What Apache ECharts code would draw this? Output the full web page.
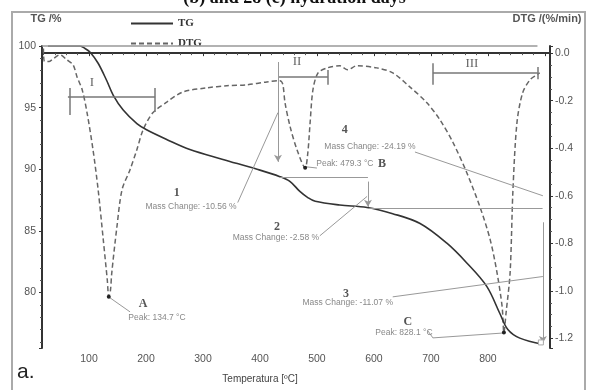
<!DOCTYPE html>
<html>
<head>
<meta charset="utf-8">
<script src="https://cdn.jsdelivr.net/npm/echarts@6/dist/echarts.min.js"></script>
<style>
html,body{margin:0;padding:0;background:#fff;}
#chart{width:589px;height:390px;}
</style>
</head>
<body>
<div id="chart"></div>
<script>
// TG curve (temperature in C, mass in %)
var tgTemp = [28, 84, 93, 102, 116, 131, 142.6, 160, 184, 201, 237, 277, 335, 395, 435, 453, 470, 484, 497, 540, 588, 633, 681, 728, 763, 798, 821, 835, 856, 896];
var tgMass = [100, 100, 99.8, 99.5, 98.6, 97.2, 96.0, 94.8, 93.7, 93.2, 92.4, 91.6, 90.8, 90.0, 89.4, 89.0, 88.2, 87.7, 87.4, 87.1, 86.9, 86.4, 85.6, 84.0, 82.4, 80.5, 78.3, 77.0, 76.3, 75.8];

// DTG curve (temperature in C, rate in %/min)
var dtgTemp = [20, 22, 30, 35, 49, 61, 72, 79, 88, 96.5, 107, 116, 125, 132, 134.7, 137.5, 140, 149, 158, 172, 184, 195, 212, 237, 265, 307, 342, 377, 412, 435, 440, 444, 453, 465, 479.3, 484, 488, 493, 502, 518, 540, 554, 570, 605, 633, 663, 693, 716, 739, 763, 786, 804, 816, 825, 828.1, 832, 839, 844, 851, 861, 874, 886, 891];
var dtgRate = [0.02, -0.035, -0.035, -0.028, -0.007, -0.028, -0.049, -0.10, -0.154, -0.25, -0.406, -0.574, -0.784, -0.952, -1.024, -1.0, -0.923, -0.73, -0.574, -0.49, -0.406, -0.322, -0.251, -0.205, -0.163, -0.146, -0.137, -0.133, -0.121, -0.116, -0.13, -0.209, -0.31, -0.406, -0.482, -0.419, -0.293, -0.154, -0.083, -0.062, -0.053, -0.07, -0.053, -0.062, -0.083, -0.142, -0.209, -0.281, -0.377, -0.503, -0.646, -0.784, -0.923, -1.066, -1.175, -1.09, -0.923, -0.574, -0.293, -0.167, -0.112, -0.091, -0.083];

// DTG peaks
var peakTemps = [134.7, 479.3, 828.1];
var peakRates = [-1.024, -0.482, -1.175];
var peakNames = ['A', 'B', 'C'];

// stage brackets (temperature range, TG level of the bar)
var stageNames = ['I', 'II', 'III'];
var stageFrom = [63, 431.6, 703.5];
var stageTo = [216, 519.3, 887.7];
var stageLevel = [95.9, 97.5, 97.8];

// mass change steps
var changeNames = ['1', '2', '3', '4'];
var changeText = ['Mass Change: -10.56 %', 'Mass Change: -2.58 %', 'Mass Change: -11.07 %', 'Mass Change: -24.19 %'];
var changeLabelAt = [[279, 87.0], [428, 84.45], [554, 79.2], [593, 91.85]];
var changeLeaderTo = [[431.6, 94.6], [588, 87.8], [896.5, 81.3], [896.5, 87.85]];
var changeLeaderFrom = [[361, 87.3], [505, 84.6], [633, 79.65], [672, 91.4]];

var chart = echarts.init(document.getElementById('chart'));

var tgData = [];
for (var i = 0; i < tgTemp.length; i++) tgData.push([tgTemp[i], tgMass[i]]);
var dtgData = [];
for (var i = 0; i < dtgTemp.length; i++) dtgData.push([dtgTemp[i], dtgRate[i]]);

function seg(a, b, arrow, style) {
	var p = {coord: a, symbol: 'none'};
	if (style) p.lineStyle = style;
	return [p, {coord: b, symbol: arrow ? 'arrow' : 'none'}];
}

var bracketStyle = {color: '#777', width: 1.5, type: 'solid'};
var lines = [];
// top frame line
lines.push(seg([17.5, 100], [887, 100], false, {color: '#999', width: 1.5, type: 'solid'}));
// stage brackets
for (var i = 0; i < stageNames.length; i++) {
	lines.push(seg([stageFrom[i], stageLevel[i]], [stageTo[i], stageLevel[i]], false, bracketStyle));
}
lines.push(seg([66.7, 96.6], [66.7, 94.4], false, bracketStyle));
lines.push(seg([216, 96.6], [216, 94.65], false, bracketStyle));
lines.push(seg([519.3, 98.05], [519.3, 96.85], false, bracketStyle));
lines.push(seg([703.5, 98.6], [703.5, 96.85], false, bracketStyle));
lines.push(seg([887.7, 98.3], [887.7, 97.3], false, bracketStyle));
// step arrows and level lines
lines.push(seg([431.6, 98.7], [431.6, 90.6], true));
lines.push(seg([435, 89.38], [589.5, 89.38]));
lines.push(seg([589.5, 89.0], [589.5, 86.95], true));
lines.push(seg([589.5, 86.86], [896, 86.86]));
lines.push(seg([896.5, 85.7], [896.5, 75.9], true));
// leaders to the labels
for (var i = 0; i < changeNames.length; i++) {
	lines.push(seg(changeLeaderFrom[i], changeLeaderTo[i]));
}
// peak leaders
lines.push(seg([134.7, 79.64], [172, 78.43]));
lines.push(seg([481, 90.2], [500, 90.1]));
lines.push(seg([828.1, 76.72], [703.5, 76.32]));
lines.push(seg([703.5, 76.32], [694.7, 76.89]));

var smallText = {fontFamily: 'Liberation Sans', fontSize: 8.5, color: '#888'};
var bigText = {fontFamily: 'Liberation Serif', fontSize: 12, color: '#555', fontWeight: 'bold'};

var texts = [];
var stageTextAt = [[105, 97.0], [465, 98.7], [772, 98.6]];
for (var i = 0; i < stageNames.length; i++) {
	texts.push({name: stageNames[i], coord: stageTextAt[i], label: {fontFamily: 'Liberation Serif', fontSize: 13, color: '#666'}});
}
var changeNumAt = [[254, 88.1], [430, 85.35], [551, 79.85], [549, 93.2]];
for (var i = 0; i < changeNames.length; i++) {
	texts.push({name: changeNames[i], coord: changeNumAt[i], label: bigText});
	texts.push({name: changeText[i], coord: changeLabelAt[i], label: smallText});
}
var peakLetterAt = [[194.7, 79.1], [614, 90.45], [659.6, 77.6]];
var peakTextAt = [[219.3, 77.95], [549, 90.45], [652.6, 76.72]];
for (var i = 0; i < peakNames.length; i++) {
	texts.push({name: peakNames[i], coord: peakLetterAt[i], label: bigText});
	texts.push({name: 'Peak: ' + peakTemps[i] + ' °C', coord: peakTextAt[i], label: smallText});
}
texts.push({name: '', coord: [tgTemp[tgTemp.length - 1] - 3, tgMass[tgMass.length - 1] + 0.15], symbol: 'rect', symbolSize: 5,
	itemStyle: {color: '#fff', borderColor: '#aaa', borderWidth: 1}});

var peakDots = [];
for (var i = 0; i < peakTemps.length; i++) {
	peakDots.push({name: peakNames[i], coord: [peakTemps[i], peakRates[i]]});
}

var axisCol = '#333';
var labelFont = {fontFamily: 'Liberation Sans', fontSize: 10.5, color: '#555'};

var option = {
	animation: false,
	backgroundColor: '#fff',
	grid: {left: 42, right: 39, top: 46, bottom: 42},
	legend: {
		orient: 'vertical', left: 125, top: 13, itemWidth: 42, itemHeight: 10, itemGap: 9,
		itemStyle: {opacity: 0},
		textStyle: {fontFamily: 'Liberation Serif', fontWeight: 'bold', fontSize: 11, color: '#333'},
		data: ['TG', 'DTG']
	},
	graphic: [
		{type: 'rect', shape: {x: 12, y: 12, width: 573, height: 400}, style: {fill: 'none', stroke: '#aaa', lineWidth: 2}, silent: true},
		{type: 'text', left: 'center', top: -11, style: {text: '(b) and 28 (c) hydration days', fontFamily: 'Liberation Serif', fontWeight: 'bold', fontSize: 18, fill: '#111'}},
		{type: 'text', left: 17, top: 362, style: {text: 'a.', fontFamily: 'Liberation Sans', fontSize: 21, fill: '#222'}}
	],
	xAxis: {
		type: 'value', min: 17.5, max: 909, splitNumber: 9,
		name: 'Temperatura [ºC]', nameLocation: 'middle', nameGap: 26,
		nameTextStyle: {fontFamily: 'Liberation Sans', fontSize: 10, color: '#444', padding: [0, 72, 0, 0]},
		axisLine: {lineStyle: {color: axisCol, width: 2}},
		axisTick: {length: 3, lineStyle: {color: axisCol}},
		minorTick: {show: true, splitNumber: 5, length: 2, lineStyle: {color: '#555'}},
		axisLabel: Object.assign({margin: 6, formatter: function (v) {
			return (v % 100 === 0 && v >= 100 && v <= 800) ? String(v) : '';
		}}, labelFont),
		splitLine: {show: false}
	},
	yAxis: [{
		type: 'value', min: 75.5, max: 100, splitNumber: 5, position: 'left',
		name: 'TG /%', nameLocation: 'end', nameGap: 22,
		nameTextStyle: {fontFamily: 'Liberation Sans', fontWeight: 'bold', fontSize: 11, color: '#555', padding: [0, 0, 0, 8]},
		axisLine: {show: true, lineStyle: {color: axisCol, width: 2}},
		axisTick: {show: true, length: 3, lineStyle: {color: axisCol}},
		minorTick: {show: true, splitNumber: 5, length: 2, lineStyle: {color: '#555'}},
		axisLabel: Object.assign({margin: 6, formatter: function (v) {
			return (Math.abs(v % 5) < 1e-6) ? String(v) : '';
		}}, labelFont),
		splitLine: {show: false}
	}, {
		type: 'value', min: -1.24, max: 0.03, splitNumber: 6, position: 'right',
		name: 'DTG /(%/min)', nameLocation: 'end', nameGap: 22,
		nameTextStyle: {fontFamily: 'Liberation Sans', fontWeight: 'bold', fontSize: 11, color: '#555', padding: [0, 0, 0, -6]},
		axisLine: {show: true, lineStyle: {color: axisCol, width: 2}},
		axisTick: {show: true, length: 3, lineStyle: {color: axisCol}},
		minorTick: {show: true, splitNumber: 4, length: 2, lineStyle: {color: '#555'}},
		axisLabel: Object.assign({margin: 5, formatter: function (v) {
			var k = v * 5;
			return (Math.abs(k - Math.round(k)) < 1e-6 && v <= 0.001) ? v.toFixed(1) : '';
		}}, labelFont),
		splitLine: {show: false}
	}],
	series: [{
		name: 'TG', type: 'line', yAxisIndex: 0, data: tgData,
		symbol: 'none', smooth: 0.35,
		lineStyle: {color: '#333', width: 1.6},
		itemStyle: {color: '#555'},
		z: 3,
		markLine: {
			silent: true, symbol: ['none', 'none'], symbolSize: [6, 7],
			label: {show: false},
			lineStyle: {color: '#999', width: 1, type: 'solid'},
			emphasis: {disabled: true},
			data: lines
		},
		markPoint: {
			silent: true, symbol: 'circle', symbolSize: 0,
			label: {show: true, position: 'inside', formatter: '{b}'},
			data: texts
		}
	}, {
		name: 'DTG', type: 'line', yAxisIndex: 1, data: dtgData,
		symbol: 'none', smooth: 0.3,
		lineStyle: {color: '#666', width: 1.5, type: [5, 3]},
		itemStyle: {color: '#777'},
		z: 2,
		markPoint: {
			silent: true, symbol: 'circle', symbolSize: 4,
			itemStyle: {color: '#222'},
			label: {show: false},
			data: peakDots
		}
	}]
};

chart.setOption(option);
</script>
</body>
</html>
